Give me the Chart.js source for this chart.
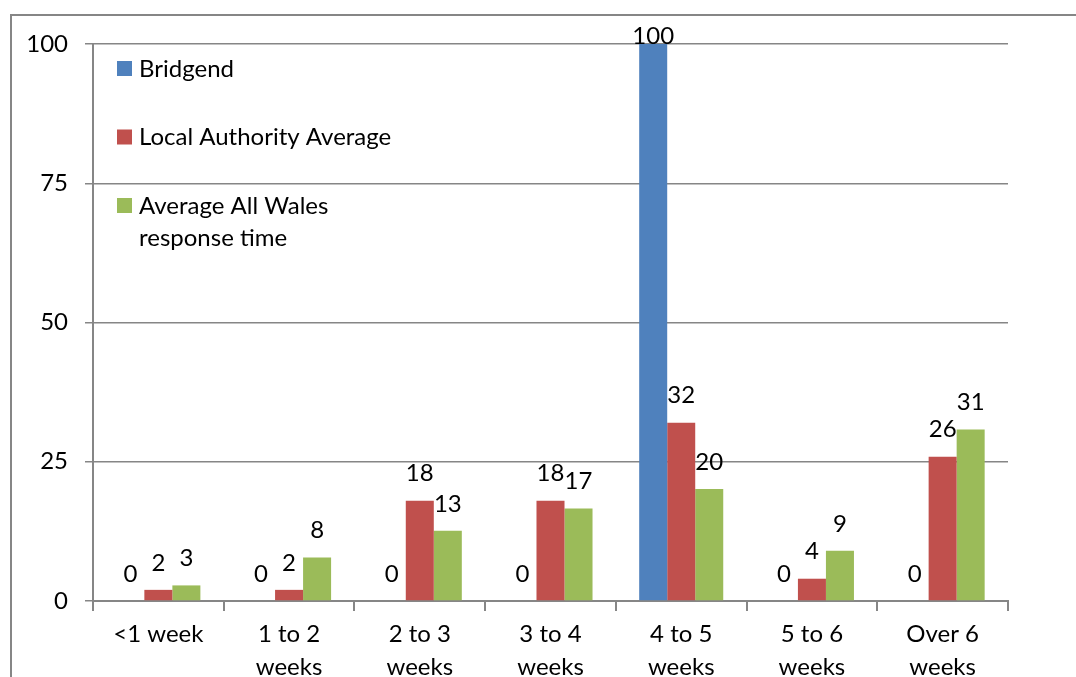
<!DOCTYPE html>
<html>
<head>
<meta charset="utf-8">
<script src="https://cdn.jsdelivr.net/npm/chart.js@4.4.1/dist/chart.umd.min.js"></script>
<style>
html,body{margin:0;padding:0;background:#fff;}
#wrap{width:1076px;height:677px;position:relative;}
canvas{display:block;}
</style>
</head>
<body>
<div id="wrap"><canvas id="c" width="1076" height="677"></canvas></div>
<script>
const categories = ["<1 week", ["1 to 2","weeks"], ["2 to 3","weeks"], ["3 to 4","weeks"], ["4 to 5","weeks"], ["5 to 6","weeks"], ["Over 6","weeks"]];
const seriesNames = ["Bridgend", "Local Authority Average", "Average All Wales response time"];
const bridgend = [0, 0, 0, 0, 100, 0, 0];
const localAuthority = [2, 2, 18, 18, 32, 4, 25.9];
const allWales = [2.8, 7.8, 12.6, 16.6, 20.1, 9.0, 30.8];
const yTicks = [0, 25, 50, 75, 100];
const colors = ["#4F81BD", "#C0504D", "#9BBB59"];

const FONT = "Lato";
const FS = 24;
const GRAY = "#868686";

const frame = {
  id: "frame",
  beforeDraw(chart) {
    const ctx = chart.ctx;
    ctx.save();
    ctx.strokeStyle = GRAY;
    ctx.lineWidth = 2;
    ctx.beginPath();
    ctx.moveTo(11, 677);
    ctx.lineTo(11, 15);
    ctx.lineTo(1076, 15);
    ctx.stroke();
    ctx.restore();
  }
};

const valueLabels = {
  id: "valueLabels",
  afterDatasetsDraw(chart) {
    const ctx = chart.ctx;
    const ca = chart.chartArea;
    ctx.save();
    ctx.font = FS + "px " + FONT;
    ctx.fillStyle = "#000";
    ctx.textAlign = "center";
    ctx.textBaseline = "middle";
    chart.data.datasets.forEach((ds, di) => {
      const meta = chart.getDatasetMeta(di);
      meta.data.forEach((bar, i) => {
        const v = ds.data[i];
        const y = Math.max(bar.y - 27, ca.top - 8);
        ctx.fillText(String(Math.round(v)), bar.x, y);
      });
    });
    ctx.restore();
  }
};

const insideLegend = {
  id: "insideLegend",
  afterDraw(chart) {
    const ctx = chart.ctx;
    const ca = chart.chartArea;
    ctx.save();
    ctx.font = FS + "px " + FONT;
    ctx.textBaseline = "middle";
    ctx.textAlign = "left";
    const maxW = 268;
    chart.data.datasets.forEach((ds, i) => {
      const words = ds.label.split(" ");
      const lines = [];
      let cur = "";
      words.forEach(w => {
        const t = cur ? cur + " " + w : w;
        if (ctx.measureText(t).width > maxW && cur) { lines.push(cur); cur = w; }
        else cur = t;
      });
      if (cur) lines.push(cur);
      const cy = ca.top + 25 + i * 68.5;
      ctx.fillStyle = ds.backgroundColor;
      ctx.fillRect(ca.left + 24, cy - 8, 15, 15);
      ctx.fillStyle = "#000";
      lines.forEach((ln, k) => ctx.fillText(ln, ca.left + 46, cy + k * 32));
    });
    ctx.restore();
  }
};

new Chart(document.getElementById("c"), {
  type: "bar",
  data: {
    labels: categories,
    datasets: [
      { label: seriesNames[0], data: bridgend, backgroundColor: colors[0] },
      { label: seriesNames[1], data: localAuthority, backgroundColor: colors[1] },
      { label: seriesNames[2], data: allWales, backgroundColor: colors[2] }
    ]
  },
  options: {
    responsive: false,
    animation: false,
    devicePixelRatio: 1,
    layout: { padding: { top: 44, right: 68, left: 0, bottom: 0 } },
    datasets: { bar: { barPercentage: 1.0, categoryPercentage: 0.643 } },
    plugins: { legend: { display: false }, tooltip: { enabled: false } },
    scales: {
      x: {
        offset: true,
        grid: { offset: true, drawOnChartArea: false, drawTicks: true, tickLength: 10, color: GRAY, lineWidth: 2 },
        border: { color: GRAY, width: 2 },
        ticks: { color: "#000", padding: 7, maxRotation: 0, autoSkip: false, font: { family: FONT, size: FS, lineHeight: 33 / FS } },
        afterFit(s) { s.height = 76; }
      },
      y: {
        min: 0, max: 100,
        afterBuildTicks(s) { s.ticks = yTicks.map(v => ({ value: v })); },
        grid: { color: GRAY, lineWidth: 1.5, tickLength: 8 },
        border: { color: GRAY, width: 2 },
        ticks: { color: "#000", padding: 17, font: { family: FONT, size: FS } },
        afterFit(s) { s.width = 93; }
      }
    }
  },
  plugins: [frame, valueLabels, insideLegend]
});
</script>
</body>
</html>
